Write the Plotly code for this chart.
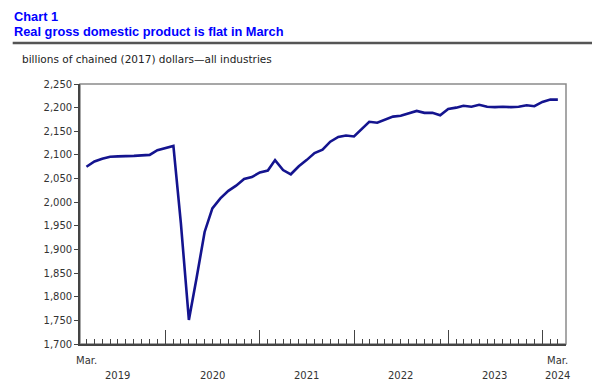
import pandas as pd
import plotly.graph_objects as go

# ---- data -------------------------------------------------------------
months = pd.date_range("2019-03-01", "2024-03-01", freq="MS")
gdp = [
    # 2019 Mar-Dec
    2075, 2086, 2092, 2096, 2097, 2097, 2098, 2099, 2100, 2110,
    # 2020
    2115, 2119, 1955, 1751, 1840, 1937, 1987, 2008, 2024, 2035, 2049, 2053,
    # 2021
    2063, 2067, 2089, 2068, 2059, 2076, 2089, 2104, 2111, 2128, 2138, 2141,
    # 2022
    2139, 2155, 2170, 2168, 2174, 2181, 2183, 2188, 2193, 2189, 2189, 2184,
    # 2023
    2197, 2200, 2204, 2202, 2206, 2202, 2201, 2202, 2201, 2202, 2205, 2203,
    # 2024 Jan-Mar
    2212, 2217, 2217,
]
y_ticks = list(range(1700, 2251, 50))
year_ticks = ["2020-01-01", "2021-01-01", "2022-01-01", "2023-01-01", "2024-01-01"]
year_labels = ["2019", "2020", "2021", "2022", "2023", "2024"]
year_label_pos = ["2019-06-28", "2020-07-01", "2021-07-01", "2022-07-01", "2023-07-01", "2024-03-01"]

title1 = "Chart 1"
title2 = "Real gross domestic product is flat in March"
subtitle = "billions of chained (2017) dollars\u2014all industries"

# ---- layout geometry (pixels; page body adds an 8px offset) -------------
OFF = 8
W, H = 600, 386 - OFF
L, R, T, B = 80 - OFF, 566 - OFF, 83.6 - OFF, 343.6 - OFF
PW, PH = R - L, B - T


def px(x):
    return (x - OFF - L) / PW


def py(y):
    return (B - (y - OFF)) / PH


TICK_FONT = dict(family="DejaVu Sans, Verdana, sans-serif", size=10, color="#333333")

fig = go.Figure()
fig.add_trace(go.Scatter(
    x=months, y=gdp, mode="lines",
    line=dict(color="#14148F", width=2.6),
    hoverinfo="x+y", showlegend=False,
))

fig.update_layout(
    width=W, height=H,
    margin=dict(l=L, r=W - R, t=T, b=H - B, pad=0),
    paper_bgcolor="white", plot_bgcolor="white",
    showlegend=False,
    xaxis=dict(
        type="date",
        range=["2019-02-04", "2024-04-01 14:00"],
        showgrid=False, zeroline=False,
        showline=True, linecolor="#444444", linewidth=1.6,
        tickmode="array", tickvals=year_ticks,
        ticks="inside", ticklen=14, tickcolor="#444444", tickwidth=1,
        showticklabels=False,
        minor=dict(tickmode="array", tickvals=list(months), ticks="inside",
                   ticklen=5, tickcolor="#444444", tickwidth=1, showgrid=False),
    ),
    yaxis=dict(
        range=[1700, 2250],
        showgrid=False, zeroline=False,
        showline=True, linecolor="#444444", linewidth=1.6,
        tickmode="array", tickvals=y_ticks, tickformat=",",
        ticks="outside", ticklen=4, tickcolor="#444444", tickwidth=1,
        tickfont=TICK_FONT,
    ),
)

# top & right border of plot box
fig.add_shape(type="rect", xref="paper", yref="paper", x0=0, x1=1, y0=0, y1=1,
              line=dict(color="#8a8a8a", width=1.5), layer="below")

# horizontal rule under title
fig.add_shape(type="line", xref="paper", yref="paper",
              x0=px(12.7), x1=px(608), y0=py(42.7), y1=py(42.7),
              line=dict(color="#555555", width=2.5))

TITLE_FONT = dict(family="Arial, Liberation Sans, sans-serif", size=12.8,
                  color="#0000FF", weight="bold")
fig.add_annotation(text=title1, xref="paper", yref="paper", x=px(12.3), y=py(16.2),
                   xanchor="left", yanchor="middle", showarrow=False, font=TITLE_FONT)
fig.add_annotation(text=title2, xref="paper", yref="paper", x=px(12.3), y=py(31.5),
                   xanchor="left", yanchor="middle", showarrow=False, font=TITLE_FONT)
fig.add_annotation(text=subtitle, xref="paper", yref="paper", x=px(20.3), y=py(59),
                   xanchor="left", yanchor="middle", showarrow=False,
                   font=dict(family="DejaVu Sans, Verdana, sans-serif", size=10.5, color="#222222"))

# x-axis labels
for lab, pos in zip(year_labels, year_label_pos):
    fig.add_annotation(text=lab, xref="x", yref="paper", x=pos, y=py(375),
                       xanchor="center", yanchor="middle", showarrow=False, font=TICK_FONT)
for pos in [months[0], months[-1]]:
    fig.add_annotation(text="Mar.", xref="x", yref="paper", x=pos, y=py(360),
                       xanchor="center", yanchor="middle", showarrow=False, font=TICK_FONT)

fig.write_html("out.html")
